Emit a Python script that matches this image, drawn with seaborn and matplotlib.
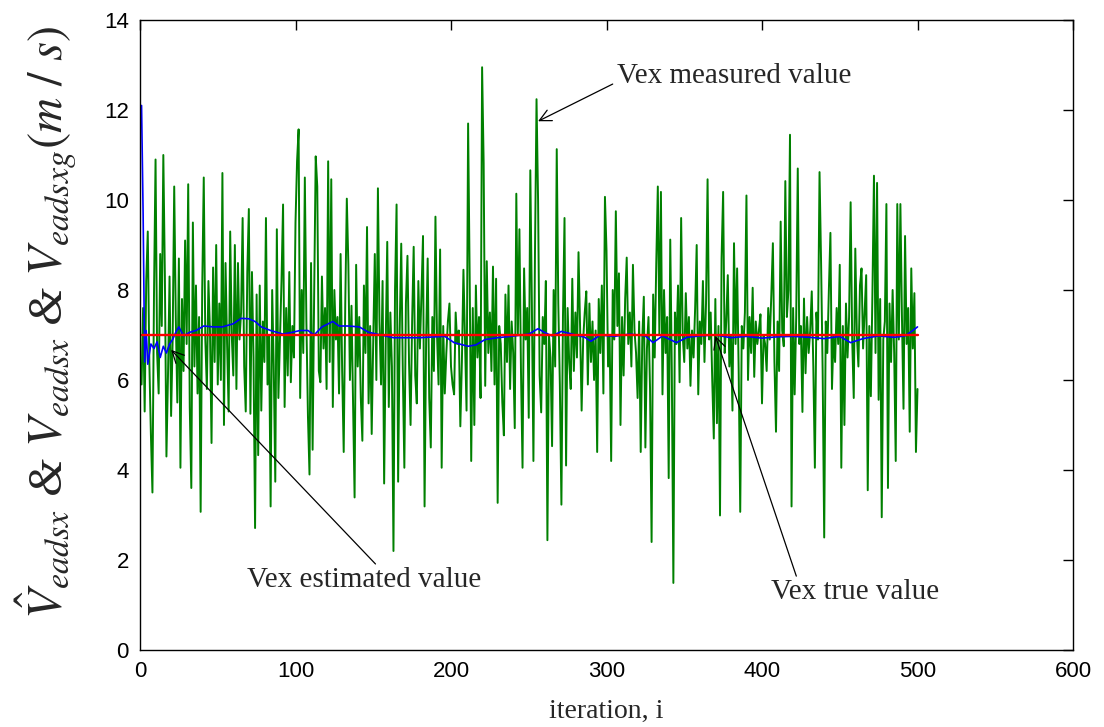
import numpy as np
import pandas as pd
import matplotlib
matplotlib.use("Agg")
import matplotlib.pyplot as plt
import seaborn as sns

# Valores (iteraciones 1..500)
medido = [
    5.9, 7.6, 5.3, 8.2, 9.3, 6.4, 4.8, 3.5, 7.9, 10.9,
    6.6, 5.7, 8.8, 7.2, 11.0, 8.3, 4.3, 6.1, 8.3, 5.2,
    6.9, 10.3, 7.4, 5.5, 8.7, 4.05, 7.8, 6.2, 9.1, 6.8,
    10.35, 5.4, 3.6, 9.5, 6.3, 8.1, 5.7, 7.4, 3.07, 8.0,
    10.5, 6.9, 5.8, 8.2, 7.1, 4.6, 8.5, 6.4, 9.0, 5.9,
    7.7, 6.0, 10.6, 5.0, 8.6, 6.8, 5.3, 9.3, 7.0, 6.1,
    9.0, 5.8, 8.6, 6.9, 7.5, 9.6, 6.3, 5.3, 8.4, 9.8,
    5.25, 8.4, 6.5, 2.71, 7.9, 4.33, 8.1, 5.32, 7.3, 6.4,
    9.6, 5.9, 7.0, 3.19, 8.0, 6.3, 3.74, 9.35, 5.6, 6.9,
    8.2, 9.9, 5.4, 7.6, 6.1, 8.4, 5.95, 7.2, 6.5, 9.5,
    10.86, 11.57, 5.6, 8.0, 6.6, 10.5, 7.3, 5.2, 3.9, 8.6,
    4.45, 7.9, 10.97, 10.3, 6.2, 5.95, 8.3, 6.7, 7.6, 5.8,
    10.86, 6.4, 10.46, 5.4, 8.0, 6.9, 7.4, 5.7, 8.8, 6.2,
    4.4, 7.7, 10.03, 8.56, 6.0, 7.65, 5.5, 3.39, 8.56, 6.3,
    7.4, 5.6, 4.65, 8.1, 6.6, 9.4, 5.48, 7.2, 4.8, 6.9,
    8.8, 6.0, 10.26, 7.3, 5.9, 8.2, 3.7, 6.8, 9.07, 5.4,
    7.5, 6.3, 2.2, 8.0, 9.9, 3.74, 7.1, 9.03, 6.2, 4.05,
    7.7, 8.76, 6.4, 5.0, 7.3, 8.96, 6.1, 5.48, 8.2, 6.7,
    7.9, 9.2, 3.19, 6.9, 8.7, 5.6, 4.5, 7.4, 6.2, 9.63,
    7.0, 5.9, 8.9, 4.05, 7.2, 5.7, 6.6, 7.3, 7.7, 6.3,
    5.9, 5.68, 7.5, 6.8, 7.1, 4.97, 6.4, 8.45, 6.9, 5.32,
    11.7, 8.3, 4.2, 7.6, 5.0, 8.1, 6.5, 7.4, 5.6, 12.95,
    10.82, 5.87, 8.64, 6.6, 7.5, 6.2, 8.52, 5.9, 8.25, 3.27,
    7.2, 6.8, 5.5, 4.77, 7.9, 6.4, 8.1, 5.8, 7.3, 6.6,
    4.93, 10.14, 7.0, 9.35, 6.2, 4.05, 8.48, 6.9, 7.6, 5.16,
    10.66, 7.7, 4.2, 8.8, 12.24, 9.99, 6.1, 5.28, 7.4, 6.8,
    8.2, 2.44, 7.0, 6.5, 4.53, 8.0, 6.3, 11.13, 7.7, 5.9,
    3.23, 7.4, 9.6, 4.1, 7.6, 6.4, 5.8, 8.25, 6.2, 7.5,
    6.5, 8.84, 7.2, 5.32, 6.9, 7.5, 7.97, 5.9, 7.7, 6.4,
    7.3, 6.0, 7.1, 4.4, 7.8, 6.6, 8.1, 5.7, 10.07, 8.88,
    6.3, 7.0, 4.2, 8.0, 6.9, 9.75, 7.2, 8.37, 5.0, 7.4,
    6.1, 7.8, 8.72, 6.8, 7.5, 6.3, 8.56, 7.1, 6.6, 5.6,
    7.3, 4.4, 6.9, 7.85, 4.5, 6.7, 7.4, 5.8, 2.4, 7.9,
    6.5, 8.6, 10.3, 7.0, 10.18, 5.68, 8.0, 6.6, 7.4, 3.82,
    9.12, 6.2, 1.49, 7.5, 6.8, 8.1, 5.95, 9.6, 7.0, 6.4,
    7.93, 6.7, 7.4, 5.87, 7.1, 6.5, 7.6, 9.0, 5.68, 7.3,
    6.8, 8.2, 6.4, 7.7, 10.46, 6.9, 7.5, 6.0, 4.7, 7.8,
    5.04, 7.2, 2.99, 8.7, 10.18, 6.6, 7.3, 8.33, 6.3, 7.0,
    5.32, 9.04, 6.8, 8.48, 6.2, 3.07, 7.2, 6.7, 7.5, 10.1,
    6.0, 7.4, 6.6, 8.05, 6.07, 7.3, 6.8, 7.1, 7.46, 5.48,
    7.0, 6.8, 6.2, 7.6, 6.9, 7.9, 9.04, 6.4, 4.85, 7.3,
    6.2, 9.52, 7.1, 6.75, 10.42, 7.4, 8.0, 11.45, 3.19, 7.6,
    5.68, 7.4, 10.7, 6.8, 7.2, 5.29, 7.81, 6.15, 7.4, 6.6,
    7.1, 7.97, 6.3, 4.05, 7.5, 6.9, 10.62, 8.6, 6.2, 2.5,
    7.3, 6.6, 8.0, 9.27, 5.8, 7.0, 6.4, 7.6, 6.8, 8.56,
    4.05, 7.2, 5.0, 7.7, 6.5, 7.4, 9.95, 6.9, 5.6, 8.92,
    7.0, 6.3, 8.1, 8.48, 6.7, 7.5, 8.33, 3.55, 7.2, 5.64,
    7.9, 10.54, 6.6, 10.38, 5.56, 7.8, 2.95, 6.9, 7.3, 9.91,
    3.6, 7.7, 6.4, 8.0, 6.6, 4.2, 9.91, 6.9, 9.91, 7.4,
    5.36, 9.2, 6.8, 7.6, 4.85, 8.48, 6.7, 7.93, 4.4, 5.8,
]

# Estimado (puntos leidos en algunas iteraciones)
iter_estimado = [1, 2, 3, 4, 5, 7, 9, 11, 13, 15, 17, 19, 21, 23, 25, 28, 32, 36,
                 41, 47, 53, 60, 65, 70, 74, 78, 84, 88, 92, 98, 103, 108, 112,
                 117, 124, 128, 134, 141, 147, 155, 163, 170, 180, 190, 196, 202,
                 211, 216, 222, 230, 241, 250, 256, 260, 265, 271, 278, 286, 290,
                 296, 305, 315, 325, 330, 336, 345, 352, 360, 370, 380, 390, 400,
                 410, 420, 430, 440, 450, 457, 465, 475, 485, 492, 497, 500]
estimado = [12.1, 9.7, 6.4, 7.1, 6.35, 6.8, 6.7, 6.85, 6.5, 6.75, 6.6, 6.8, 6.9,
            7.06, 7.18, 6.98, 7.06, 7.1, 7.2, 7.18, 7.18, 7.25, 7.37, 7.36, 7.3,
            7.18, 7.1, 7.06, 7.02, 7.06, 7.1, 7.1, 7.0, 7.18, 7.3, 7.2, 7.2, 7.18,
            7.06, 7.0, 6.94, 6.94, 6.94, 6.96, 6.97, 6.83, 6.75, 6.78, 6.9, 6.94,
            6.98, 7.02, 7.14, 7.06, 6.98, 7.08, 7.02, 6.95, 6.86, 7.0, 6.97, 7.02,
            6.98, 6.83, 6.98, 6.83, 6.95, 6.98, 7.0, 6.94, 6.97, 6.93, 6.96, 6.97,
            6.95, 6.92, 6.97, 6.83, 6.92, 6.98, 6.95, 6.98, 7.1, 7.18]

valor_real = 7.0

iteraciones = np.arange(1, len(medido) + 1)
df_medido = pd.DataFrame({"i": iteraciones, "v": medido})
df_est = pd.DataFrame({"i": iter_estimado, "v": estimado})
df_real = pd.DataFrame({"i": iteraciones, "v": [valor_real] * len(iteraciones)})

sns.set_style("white")
plt.rcParams["font.family"] = ["Liberation Sans", "DejaVu Sans"]
plt.rcParams["mathtext.fontset"] = "stix"

fig = plt.figure(figsize=(11.04, 7.27), dpi=100)
ax = fig.add_axes([140 / 1104, 77 / 727, 933 / 1104, 630 / 727])

sns.lineplot(data=df_medido, x="i", y="v", color="#008000", lw=1.4, ax=ax)
sns.lineplot(data=df_est, x="i", y="v", color="#0000ff", lw=1.2, ax=ax)
sns.lineplot(data=df_real, x="i", y="v", color="#ff0000", lw=1.7, ax=ax)

ax.set_xlim(0, 600)
ax.set_ylim(0, 14)
ax.set_xticks(range(0, 601, 100))
ax.set_yticks(range(0, 15, 2))
ax.tick_params(direction="in", length=7, width=1, top=True, right=True,
               labelsize=16, colors="black", pad=8)
for s in ax.spines.values():
    s.set_color("black")
    s.set_linewidth(1.0)

serif = ["Liberation Serif", "DejaVu Serif"]
ax.set_xlabel("iteration, i", family=serif, fontsize=20)
ax.xaxis.set_label_coords(0.5, -0.077)
ax.set_ylabel(r"$\hat{V}_{eadsx}$ & $V_{eadsx}$ & $V_{eadsxg}(m\ /\ s)$",
              family=serif, style="italic", fontsize=35)
ax.yaxis.set_label_coords(-0.065, 0.52)

flecha = dict(arrowstyle="->", color="black", lw=0.9, shrinkA=0, shrinkB=0)
ax.annotate("Vex measured value", xy=(256, 11.75), xytext=(307, 12.75),
            family=serif, fontsize=21, va="center", ha="left",
            arrowprops=dict(flecha, relpos=(-0.02, 0.2)))
ax.annotate("Vex estimated value", xy=(20, 6.67), xytext=(69, 1.55),
            family=serif, fontsize=21, va="center", ha="left",
            arrowprops=dict(flecha, relpos=(0.55, 1.1)))
ax.annotate("Vex true value", xy=(370, 6.98), xytext=(406, 1.28),
            family=serif, fontsize=21, va="center", ha="left",
            arrowprops=dict(flecha, relpos=(0.15, 1.1)))

plt.savefig("out.png", dpi=100)
plt.close()
